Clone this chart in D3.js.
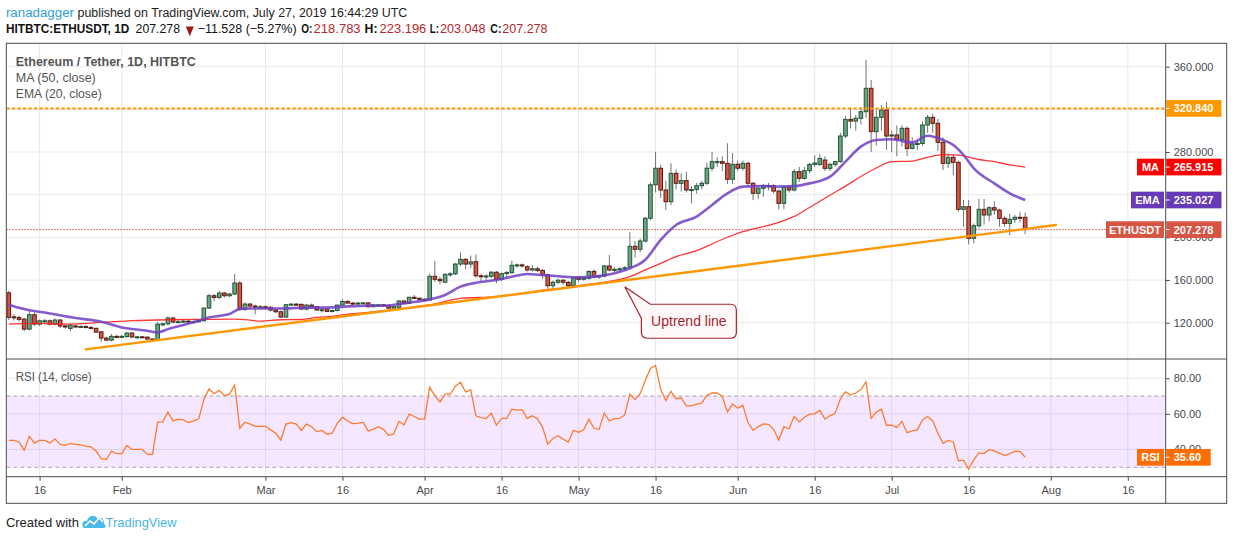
<!DOCTYPE html>
<html>
<head>
<meta charset="utf-8">
<script src="https://cdnjs.cloudflare.com/ajax/libs/d3/7.8.5/d3.min.js"></script>
<style>
  body { margin: 0; background: #fff; }
  svg { display: block; font-family: "Liberation Sans", Arial, sans-serif; }
</style>
</head>
<body>
<svg id="chart" width="1234" height="540"></svg>
<script>
const firstDay = '2019-01-10';

const opens = [148,125.5,125,123.4,114,127.5,118.7,121.5,121.8,118.7,
  122.5,117,114.7,117,116,116.5,115.6,114.7,111.5,105.6,
  103.7,107.2,107,107,110.3,106.6,106.8,106.5,104.7,103.7,
  118.7,119,124.4,120.6,121,121.5,121,121,121.9,133.7,
  145.3,143.7,147.8,145.3,146.9,157.2,132.8,137.5,135.6,135,
  135,134.4,131.9,130.3,125.3,136.9,137.4,137.2,132.8,136.5,
  135,131.9,132.8,130.6,131.5,136.5,140,138.4,137.5,138.4,
  138.6,135,136.8,136.8,136.2,133.7,134.4,140.4,138.2,143.8,
  142.9,142,141.3,163.5,160.7,158,165.4,165.8,175,179.4,
  175,177.2,164,163.5,163.5,167.3,160.7,166,167,173.8,
  174.2,172.5,169.4,170.6,169,165,154.7,157.9,159.8,157.9,
  154.7,162.2,160.7,161.6,168.1,163,163.8,173.2,169.4,170,
  170.5,172,191.6,188.8,196.6,217.9,249.3,264.8,244.4,233.4,
  260,250.7,253.2,244.4,245,248.4,250.7,264.8,271,271,
  269.4,254.4,268.5,264.8,269.4,250.7,241.3,246,248.4,248.4,
  243.4,231.9,246.9,244.4,261.6,255.3,262.5,268.4,268.4,272.5,
  264.7,268.4,271,295,310.6,309,311.6,317.8,339.7,299.1,
  312.5,319.4,295,296,291.9,302.2,283.4,287.5,288,305.3,
  312.5,306.9,289.1,269.4,275,270.3,226.3,228.8,199.1,210.9,
  226.3,221,227.8,225.6,217.8,213.1,216.9,218.8,218.783];

const highs = [150,128,126.5,124.5,131,129.5,123,123.5,123,124,
  123.5,118.5,119,118.5,117.5,117.5,116.5,115.5,112,107,
  109.5,108.5,108.5,111.5,111.5,107.5,107.5,107,105.5,120.5,
  120,126,125.5,123,123.5,122.5,122,123,134.5,147,
  147,150,149,148,165.6,159,139,138.5,137,136.5,
  136,135.5,133,131.5,137.5,138.5,138.5,138,137.5,138,
  135.5,133.5,133.5,132.5,137,142,141,139.5,139.5,139.5,
  139,137.5,137.5,137.5,136.8,135.8,141,141,144.5,146,
  143.5,143,166,177.8,163,166,167.5,176,186,180.5,
  183,184,166,165.5,168.5,168.5,167,168.5,178,175.5,
  175.5,174,174,172.5,170.5,166,159.5,161.5,161,159,
  163.5,163.5,163.5,169,170,165,174,183.5,172,172,
  173,204.8,196.5,199,219,251.5,280.3,268,253,269.4,
  263.5,260,261.5,248,251,253,270,280,275,276,
  288.2,279,272,272,271,252,249,250,251,250,
  245,248.5,249,264,266,266,270,277,278,276,
  270,272,298,314,322,315,322,366.3,347.5,320,
  324,327,300,305,305,304,294,291,309,314.7,
  316,311,294,279,278,272,235,235,213,236,
  236,229,234,227,220,222,221,224,223.196];

const lows = [122.5,122,121,112,113,117,117,119.5,117.5,117.5,
  115,114.5,112,115,115,114.5,113.5,110.5,102,103,
  102.5,105.5,105.5,106,106,105,105.5,104,103,103,
  116.5,117.5,119.5,119.5,120,119.5,119.5,120,121,133,
  140,142,143.5,144,146,131.5,131,133,128,133,
  132.5,130.5,129,124.5,124.5,136,136,132,131.5,134,
  131,129.5,130,129.5,130.5,135.5,137.5,136.5,137,137.5,
  134,134.5,135.5,135.5,132.5,133,134,137.5,137.5,142,
  141,140.5,141,158,156,157,163,164.5,173,170,
  171,162,159,160,162,157,159,163,166,171.5,
  171.5,168,168,167.5,161,151,151.5,156,155.5,153,
  154,158.5,159.5,160.5,161.5,161,162.5,168,167.5,168,
  168.5,171,181,186,195,216,242,237,225.7,230,
  245,243,242,232,241,245,249,262,266,262,
  250,250,262,262.5,247,235,236,238,244,241,
  226,226.5,242,243,252,254,260,266,267,262,
  262,266,270,293,302,300,306,312,280,286,
  300,282,280,276,285,276,282.5,282,286,298,
  298,281,263,265,258,224,210,193.4,194.4,209,
  212,215,221,210,210,202,213.5,214,203.048];

const closes = [125,125,123.1,114,127.5,118.7,121.8,121.8,118.7,122.5,
  116.9,116,117.8,116,116.5,115.6,114.7,111.2,105.6,103.7,
  107.2,107,107.2,110.3,106.6,106.8,106.5,104.7,103.7,118.7,
  119,124.4,120.6,121,121.5,121,121,121.9,133.7,145.3,
  143.7,147.8,145.3,146.9,157.2,132.8,137.5,135.6,135,135,
  134.4,131.9,130.3,125.3,136.9,137.4,137.2,132.8,136.5,135,
  131.9,132.2,130.6,131.5,136.5,140,138.4,137.5,138.4,138.6,
  135,136.8,136.8,136.2,133.7,135,140.4,138.2,143.8,142.9,
  142,141.3,163.5,160.7,159.4,165.4,165.8,175,179.4,175,
  177,164,163.5,163.8,167.3,160.7,166,167,173.8,174.2,
  173.5,169.4,170.6,169,165,154.7,157.9,159.8,157.9,154.7,
  162.2,160.7,162,168.1,163,163.8,173.2,169.4,170,170.5,
  171.5,191.6,188.8,196.6,217.9,249.3,264.8,244.4,233.4,260,
  250.7,253.2,244.4,244.8,248.4,250.7,264.8,271,271,269.4,
  254.4,268.5,264.8,269.4,250.7,241.3,246,248.4,248,243.4,
  231.9,246.9,244.4,261.6,255.3,262.5,268.4,269.7,274,264.7,
  268.4,271,295,310.6,309,311.6,317.8,339.7,299.1,312.5,
  319.4,295,296,291.9,302.2,283.4,287.5,288,305.3,312.5,
  306.9,289.1,269.4,275,270.3,226.3,228.8,199.1,210.9,226.3,
  221,227.8,225.6,217.8,213.1,216.9,218.8,218.783,207.278];

// day offsets from firstDay for the moving average samples
const maDays = [0,5,11,18,24,31,37,44,47,49,53,57,60,63,66,70,73,76,82,88,95,101,104,108,111,
  116,121,124,127,130,134,137,140,143,147,150,153,156,160,163,166,169,172,176,179,182,185,189,192,195,198];
const maValues = [118.7,119.4,118.7,120.3,121.9,122.8,123.1,123.4,122.5,121.5,122.8,123,125,125.9,128.1,129.7,131.2,132.8,136.6,142.8,144.4,148.1,150.6,152.2,154.7,
  157.8,163.2,169.5,175.7,182,187.6,193.8,200.1,205.4,210.1,214.1,219.6,228,239.7,248,257,265,271,271.5,275,277.5,277,273,271,268,265.915];

const emaDays = [0,3,8,13,18,22,27,29,31,37,39,43,45,47,53,57,63,66,70,73,76,78,82,85,88,91,95,98,101,104,108,111,114,118,121,
  124,127,130,134,137,140,143,147,150,153,156,160,163,166,169,172,176,179,182,184,186,188,192,195,198];
const emaValues = [136.9,132.8,128.7,124.4,120.9,115.6,112.5,110.9,114,121.9,125,128.1,132.8,133.4,133.4,134,134.4,135.3,135.9,135.9,137.5,138.8,141.9,146,153.8,157.5,160,163.1,165.6,164.7,163.1,162.5,163.2,166.3,171,
  179,197.6,211.6,219.5,230.4,241.3,247.6,248.2,247.6,248,250.6,256.9,271,285,291.3,291.9,289,295.3,291.3,286.6,277.2,264.7,250.6,241.3,235.027];

const rsiValues = [45.1,45.1,44.2,39.6,47.4,43.6,45.1,45.1,43.6,46,
  42.8,42.3,43.4,42.8,42.6,41.9,41.5,39.2,34.9,34.5,
  39,37.7,37.7,42.3,40,40,40,37.2,37.2,55.3,
  55.5,61,56,57,56.6,55.1,56,57.2,68,74,
  71.3,73.2,70.2,71.1,76.2,51.9,55.3,54.2,53,53,
  53,51,49.1,45.3,54.3,55.1,54.3,50.7,54.2,52.8,
  50,50.7,48.5,49.1,54.7,58.1,56,54.5,54.7,55.3,
  50.4,51.3,52.8,51.3,47.9,48.7,55.7,53.8,59.8,58.5,
  57,57,74.9,70.2,66.6,71.1,71.1,75.5,77.7,72.3,
  73.4,58.9,57.9,57.3,60.4,53.6,57.5,57.5,62.6,62.1,
  62.4,57.5,58.9,57.2,52.4,43,46.2,47.7,45.8,44.1,
  50.7,49.6,51,57,51.9,51.3,60.4,56,57.3,57.5,
  59.4,71.1,68,71.3,78.9,85.5,87.2,73.6,67.4,72.6,
  68.5,68.9,64.5,64.5,65.5,66,70.4,71.7,71.7,69.8,
  61,65.5,63.2,64.9,55.1,50.7,52.8,54.3,54.1,51.3,
  45.3,52.8,51.5,58.5,55.5,58.1,59.8,60,62.1,57,
  58.9,60.4,68.3,72.3,70.7,71.7,73.6,77.9,57.5,61,
  62.6,53.6,53.6,52.4,55.7,49.4,50.4,51,56.6,58.5,
  56,49.1,43.4,45.1,44.2,33.6,34,28.9,34.3,38.1,
  37.7,40,39.2,37.9,36.6,37.7,38.9,38.9,35.6];

const trendDates = ['2019-01-25', '2019-08-02'];
const trendPrices = [95.0, 211.6];
const resistanceLevel = 320.84;
const lastMA = 265.915, lastEMA = 235.027, lastClose = 207.278, lastRSI = 35.60;

const timeTicks = ['2019-01-16','2019-02-01','2019-03-01','2019-03-16','2019-04-01','2019-04-16','2019-05-01',
  '2019-05-16','2019-06-01','2019-06-16','2019-07-01','2019-07-16','2019-08-01','2019-08-16'];
const timeTickLabels = ['16','Feb','Mar','16','Apr','16','May','16','Jun','16','Jul','16','Aug','16'];
const priceTicks = [120, 160, 200, 240, 280, 320, 360];
// 240 and 320 sit under the EMA / resistance labels on the price scale
const priceLabelTicks = [120, 160, 200, 280, 360];
const rsiTicks = [40, 60, 80];
const rsiBand = [30, 70];
const calloutDate = '2019-05-10', calloutPrice = 153.8;

// ---- layout ----
const svg = d3.select('#chart');
const frameL = 6.3, plotR = 1165.7, frameR = 1226.7;
const frameT = 43.3, mainB = 359, rsiB = 476.7, frameB = 503.3;

const upFill = '#6ba583', upLine = '#225437', downFill = '#d75442', downLine = '#5b1a13';
const gridColor = '#e8e8e9', frameColor = '#4a4a4a', textGrey = '#4a4a4a';

const parse = d3.utcParse('%Y-%m-%d');
const start = parse(firstDay);
const dayAt = d => d3.utcDay.offset(start, d);

const x = d3.scaleUtc()
  .domain([parse('2019-01-16'), parse('2019-08-16')])
  .range([39.6, 1127.8]);
const y = d3.scaleLinear().domain([86, 381.9]).range([mainB, frameT]);
const yRsi = d3.scaleLinear().domain([25.1, 90.8]).range([rsiB - 0.7, mainB]);

const candles = closes.map((c, i) => ({
  date: dayAt(i), o: opens[i], h: highs[i], l: lows[i], c: c, rsi: rsiValues[i]
}));

const defs = svg.append('defs');
defs.append('clipPath').attr('id', 'clipMain').append('rect')
  .attr('x', frameL).attr('y', frameT).attr('width', plotR - frameL).attr('height', mainB - frameT);
defs.append('clipPath').attr('id', 'clipRsi').append('rect')
  .attr('x', frameL).attr('y', mainB).attr('width', plotR - frameL).attr('height', rsiB - mainB);

// ---- grid ----
const grid = svg.append('g');
grid.selectAll('.vg').data(timeTicks).join('line')
  .attr('x1', d => x(parse(d))).attr('x2', d => x(parse(d)))
  .attr('y1', frameT).attr('y2', rsiB)
  .attr('stroke', gridColor).attr('stroke-width', 1);
grid.selectAll('.hg').data(priceTicks).join('line')
  .attr('x1', frameL).attr('x2', plotR)
  .attr('y1', d => y(d)).attr('y2', d => y(d))
  .attr('stroke', gridColor);
grid.selectAll('.rg').data(rsiTicks).join('line')
  .attr('x1', frameL).attr('x2', plotR)
  .attr('y1', d => yRsi(d)).attr('y2', d => yRsi(d))
  .attr('stroke', gridColor);

// ---- main pane ----
const main = svg.append('g').attr('clip-path', 'url(#clipMain)');

// last price dotted line
main.append('line')
  .attr('x1', frameL).attr('x2', plotR)
  .attr('y1', y(lastClose)).attr('y2', y(lastClose))
  .attr('stroke', '#d75442').attr('stroke-width', 1).attr('stroke-dasharray', '1.5,1.5');

// candles
const bodyW = 3.6;
const cg = main.append('g');
cg.selectAll('.wick').data(candles).join('line')
  .attr('x1', d => x(d.date)).attr('x2', d => x(d.date))
  .attr('y1', d => y(d.h)).attr('y2', d => y(d.l))
  .attr('stroke', '#737375').attr('stroke-width', 1);
cg.selectAll('.body').data(candles).join('rect')
  .attr('x', d => x(d.date) - bodyW / 2)
  .attr('width', bodyW)
  .attr('y', d => y(Math.max(d.o, d.c)))
  .attr('height', d => Math.max(1, Math.abs(y(d.o) - y(d.c))))
  .attr('fill', d => d.c >= d.o ? upFill : downFill)
  .attr('stroke', d => d.c >= d.o ? upLine : downLine)
  .attr('stroke-width', 1);

// moving averages
const maLine = d3.line().x(d => x(dayAt(d[0]))).y(d => y(d[1])).curve(d3.curveMonotoneX);
main.append('path')
  .datum(maDays.map((d, i) => [d, maValues[i]]))
  .attr('d', maLine).attr('fill', 'none')
  .attr('stroke', '#ff2020').attr('stroke-width', 1.3).attr('stroke-opacity', 0.9);
main.append('path')
  .datum(emaDays.map((d, i) => [d, emaValues[i]]))
  .attr('d', maLine).attr('fill', 'none')
  .attr('stroke', '#6f3fc4').attr('stroke-width', 2.6).attr('stroke-opacity', 0.85);

// uptrend line
main.append('line')
  .attr('x1', x(parse(trendDates[0]))).attr('y1', y(trendPrices[0]))
  .attr('x2', x(parse(trendDates[1]))).attr('y2', y(trendPrices[1]))
  .attr('stroke', '#ff9800').attr('stroke-width', 2.4).attr('stroke-linecap', 'round');

// resistance
main.append('line')
  .attr('x1', frameL).attr('x2', plotR)
  .attr('y1', y(resistanceLevel)).attr('y2', y(resistanceLevel))
  .attr('stroke', '#ff9800').attr('stroke-width', 2).attr('stroke-dasharray', '3.5,2');

// callout
const tipX = x(parse(calloutDate)), tipY = y(calloutPrice);
const bx0 = tipX + 16.6, by0 = tipY + 17.6, bw = 95, bh = 34, r = 6;
const calloutPath = d3.path();
calloutPath.moveTo(bx0 + 9, by0);
calloutPath.lineTo(bx0 + bw - r, by0);
calloutPath.quadraticCurveTo(bx0 + bw, by0, bx0 + bw, by0 + r);
calloutPath.lineTo(bx0 + bw, by0 + bh - r);
calloutPath.quadraticCurveTo(bx0 + bw, by0 + bh, bx0 + bw - r, by0 + bh);
calloutPath.lineTo(bx0 + r, by0 + bh);
calloutPath.quadraticCurveTo(bx0, by0 + bh, bx0, by0 + bh - r);
calloutPath.lineTo(bx0, by0 + 14);
calloutPath.lineTo(tipX, tipY);
calloutPath.closePath();
svg.append('path').attr('d', calloutPath.toString())
  .attr('fill', '#fff8f8').attr('stroke', '#a3262d').attr('stroke-width', 1.2);
svg.append('text').attr('x', bx0 + bw / 2).attr('y', by0 + 22)
  .attr('text-anchor', 'middle').attr('font-size', 14).attr('fill', '#a3262d')
  .text('Uptrend line');

// ---- RSI pane ----
const rsiG = svg.append('g').attr('clip-path', 'url(#clipRsi)');
rsiG.append('rect')
  .attr('x', frameL).attr('width', plotR - frameL)
  .attr('y', yRsi(rsiBand[1])).attr('height', yRsi(rsiBand[0]) - yRsi(rsiBand[1]))
  .attr('fill', 'rgb(153, 21, 255)').attr('fill-opacity', 0.1);
rsiG.selectAll('.band').data(rsiBand).join('line')
  .attr('x1', frameL).attr('x2', plotR)
  .attr('y1', d => yRsi(d)).attr('y2', d => yRsi(d))
  .attr('stroke', '#a8a5ad').attr('stroke-dasharray', '4,3');
rsiG.append('path').datum(candles)
  .attr('d', d3.line().x(d => x(d.date)).y(d => yRsi(d.rsi)))
  .attr('fill', 'none').attr('stroke', '#ff7a2e').attr('stroke-width', 1.3);

// ---- frame ----
const frame = svg.append('g').attr('stroke', frameColor).attr('stroke-width', 1).attr('fill', 'none');
frame.append('rect').attr('x', frameL).attr('y', frameT)
  .attr('width', frameR - frameL).attr('height', frameB - frameT);
frame.append('line').attr('x1', plotR).attr('x2', plotR).attr('y1', frameT).attr('y2', frameB);
frame.append('line').attr('x1', frameL).attr('x2', frameR).attr('y1', mainB).attr('y2', mainB);
frame.append('line').attr('x1', frameL).attr('x2', frameR).attr('y1', rsiB).attr('y2', rsiB);

// ---- axes ----
const priceAxis = svg.append('g').attr('transform', `translate(${plotR},0)`)
  .call(d3.axisRight(y).tickValues(priceLabelTicks).tickSize(4).tickFormat(d3.format('.3f')));
const rsiAxis = svg.append('g').attr('transform', `translate(${plotR},0)`)
  .call(d3.axisRight(yRsi).tickValues(rsiTicks).tickSize(4).tickFormat(d3.format('.2f')));
const timeAxis = svg.append('g').attr('transform', `translate(0,${rsiB})`)
  .call(d3.axisBottom(x).tickValues(timeTicks.map(parse)).tickSize(4)
    .tickFormat((d, i) => timeTickLabels[i]));
[priceAxis, rsiAxis, timeAxis].forEach(a => {
  a.select('.domain').remove();
  a.selectAll('.tick line').attr('stroke', frameColor);
  a.selectAll('.tick text').attr('fill', textGrey).attr('font-size', 11)
    .attr('font-family', '"Liberation Sans", Arial, sans-serif');
});
priceAxis.selectAll('.tick text').attr('x', 8);
rsiAxis.selectAll('.tick text').attr('x', 8);
timeAxis.selectAll('.tick text').attr('y', 10);

// ---- price scale labels ----
function scaleLabel(yPos, value, color, name, nameW, valueW) {
  const g = svg.append('g');
  const h = 16.7;
  if (name) {
    g.append('rect').attr('x', plotR - 1.7 - nameW).attr('y', yPos - h / 2)
      .attr('width', nameW).attr('height', h).attr('fill', color);
    g.append('text').attr('x', plotR - 1.7 - nameW / 2).attr('y', yPos + 4)
      .attr('text-anchor', 'middle').attr('font-size', 11).attr('font-weight', 'bold')
      .attr('fill', '#fff').text(name);
  }
  g.append('rect').attr('x', plotR + 0.5).attr('y', yPos - h / 2)
    .attr('width', valueW).attr('height', h).attr('fill', color);
  g.append('line').attr('x1', plotR).attr('x2', plotR + 4).attr('y1', yPos).attr('y2', yPos)
    .attr('stroke', '#fff');
  g.append('text').attr('x', plotR + 8).attr('y', yPos + 4)
    .attr('font-size', 11).attr('font-weight', 'bold').attr('fill', '#fff').text(value);
}
scaleLabel(y(resistanceLevel), d3.format('.3f')(resistanceLevel), '#ff9800', null, 0, 55.3);
scaleLabel(y(lastMA), d3.format('.3f')(lastMA), '#ff0000', 'MA', 27, 55.3);
scaleLabel(y(lastEMA), d3.format('.3f')(lastEMA), '#673ab7', 'EMA', 33, 55.3);
scaleLabel(y(lastClose), d3.format('.3f')(lastClose), '#d75442', 'ETHUSDT', 58, 55.3);
scaleLabel(yRsi(lastRSI), d3.format('.2f')(lastRSI), '#ff6d00', 'RSI', 27, 44.5);

// ---- legends ----
const legend = svg.append('g').attr('fill', '#555').attr('font-size', 12);
legend.append('text').attr('x', 15.8).attr('y', 65.7).attr('font-weight', 'bold')
  .attr('textLength', 180).attr('lengthAdjust', 'spacingAndGlyphs')
  .text('Ethereum / Tether, 1D, HITBTC');
legend.append('text').attr('x', 15.8).attr('y', 81.7)
  .attr('textLength', 80).attr('lengthAdjust', 'spacingAndGlyphs').text('MA (50, close)');
legend.append('text').attr('x', 15.8).attr('y', 97.7)
  .attr('textLength', 86).attr('lengthAdjust', 'spacingAndGlyphs').text('EMA (20, close)');
legend.append('text').attr('x', 15.7).attr('y', 380.7)
  .attr('textLength', 76).attr('lengthAdjust', 'spacingAndGlyphs').text('RSI (14, close)');

// ---- header ----
function headText(xPos, yPos, w, str, color, bold) {
  svg.append('text').attr('x', xPos).attr('y', yPos).attr('font-size', 12.5)
    .attr('fill', color).attr('font-weight', bold ? 'bold' : 'normal')
    .attr('textLength', w).attr('lengthAdjust', 'spacingAndGlyphs').text(str);
}
const redVal = '#b7262b';
headText(5.9, 17, 68.1, 'ranadagger', '#2d9fdc', false);
headText(77.5, 17, 329.8, 'published on TradingView.com, July 27, 2019 16:44:29 UTC', '#222', false);
headText(5.9, 33.3, 123.4, 'HITBTC:ETHUSDT, 1D', '#111', true);
headText(135.6, 33.3, 44.4, '207.278', '#111', false);
svg.append('path').attr('d', 'M185.8,26.6 L193.8,26.6 L189.8,36.2 Z').attr('fill', '#9b1b1b');
headText(197.7, 33.3, 98.9, '\u221211.528 (\u22125.27%)', '#111', false);
headText(301.3, 33.3, 11.1, 'O:', '#111', true);
headText(313.6, 33.3, 47, '218.783', redVal, false);
headText(364.6, 33.3, 13, 'H:', '#111', true);
headText(379.6, 33.3, 46.7, '223.196', redVal, false);
headText(429.8, 33.3, 9.1, 'L:', '#111', true);
headText(440, 33.3, 45.6, '203.048', redVal, false);
headText(490.3, 33.3, 11.1, 'C:', '#111', true);
headText(502.2, 33.3, 45.4, '207.278', redVal, false);

// ---- footer ----
svg.append('text').attr('x', 5.9).attr('y', 527).attr('font-size', 13.5).attr('fill', '#222')
  .attr('textLength', 73).attr('lengthAdjust', 'spacingAndGlyphs').text('Created with');
const logo = svg.append('g').attr('transform', 'translate(82,513)');
logo.append('path')
  .attr('d', 'M1,14 C-1,10 2,7 5,8 C6,3 12,1 15,5 C19,3 23,7 22,11 C24,12 24,15 22,15 L3,15 C2,15 1,15 1,14 Z')
  .attr('fill', '#4bb8e8');
logo.append('path').attr('d', 'M3,13 L8,8 L12,11 L17,5 L21,9')
  .attr('fill', 'none').attr('stroke', '#fff').attr('stroke-width', 1.6);
svg.append('text').attr('x', 105.6).attr('y', 527).attr('font-size', 13.5).attr('fill', '#49b3e3')
  .attr('textLength', 71).attr('lengthAdjust', 'spacingAndGlyphs').text('TradingView');
</script>
</body>
</html>
